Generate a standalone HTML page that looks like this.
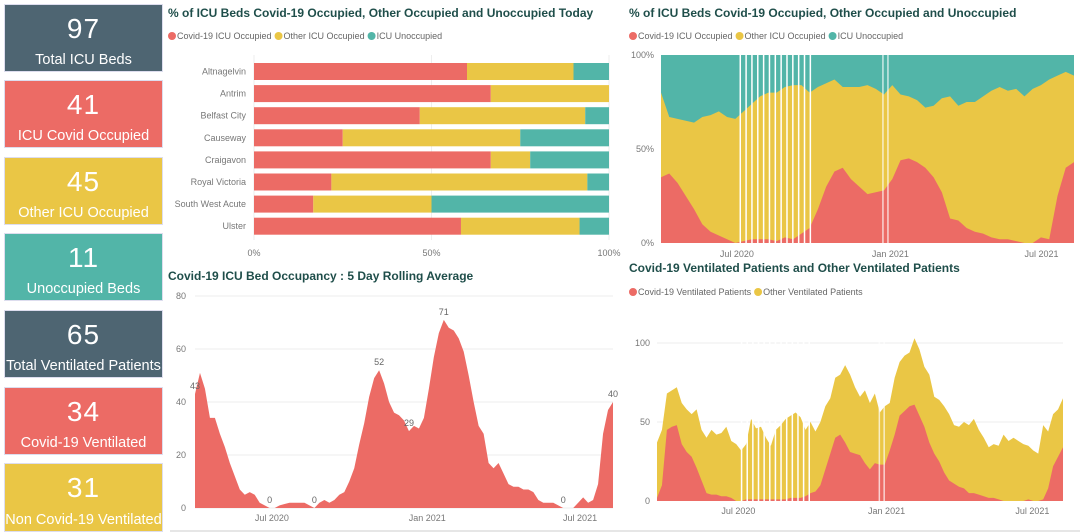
<!DOCTYPE html>
<html><head><meta charset="utf-8">
<style>
body{margin:0;width:1080px;height:532px;background:#fff;overflow:hidden;font-family:"Liberation Sans",sans-serif;position:relative}
.card{position:absolute;left:4px;width:159px;height:68px;color:#fff;text-align:center;box-sizing:border-box;border:1px solid #dde}
.card .n{position:absolute;left:0;right:0;top:8px;font-size:28px;letter-spacing:1px}
.card .l{position:absolute;left:0;right:0;bottom:3px;font-size:14.5px;white-space:nowrap}
svg{position:absolute;left:0;top:0}
</style></head><body>
<div class="card" style="top:4px;background:#4E6572"><div class="n">97</div><div class="l">Total ICU Beds</div></div>
<div class="card" style="top:80px;background:#EC6B65"><div class="n">41</div><div class="l">ICU Covid Occupied</div></div>
<div class="card" style="top:157px;background:#EAC645"><div class="n">45</div><div class="l">Other ICU Occupied</div></div>
<div class="card" style="top:233px;background:#52B5A8"><div class="n">11</div><div class="l">Unoccupied Beds</div></div>
<div class="card" style="top:310px;background:#4E6572"><div class="n">65</div><div class="l">Total Ventilated Patients</div></div>
<div class="card" style="top:387px;background:#EC6B65"><div class="n">34</div><div class="l">Covid-19 Ventilated</div></div>
<div class="card" style="top:463px;background:#EAC645;height:69px"><div class="n">31</div><div class="l">Non Covid-19 Ventilated</div></div>

<svg id="s" width="1080" height="532"></svg>
<script>
// Bar chart data
const hospitals=["Altnagelvin","Antrim","Belfast City","Causeway","Craigavon","Royal Victoria","South West Acute","Ulster"];
const covidPct=[60,66.7,46.7,25,66.7,21.8,16.7,58.3];
const otherPct=[30,33.3,46.6,50,11.1,72.1,33.3,33.4];
const unoccPct=[10,0,6.7,25,22.2,6.1,50,8.3];
const barTicks=["0%","50%","100%"];
// Rolling average (days from 1 Apr 2020, evenly spaced over 0..495)
const rollAvg=[43,51,45,34,34,28,23,17,12,7,5,6,5,2,1,0,0,1,1.5,2,2,2,2,1,0,2,3,2,3,5,6,10,15,24,32,42,49,52,47,40,36,35,33,29,31,30,34,45,57,66,71,68,67,64,59,50,40,31,28,17,15,17,13,9,8,8,7,7,6,3,2,2,2,1,0,0,0,2,4,2,3,9,28,37,40];
const rollTicks=[0,20,40,60,80];
const rollLabels=[[0,"43"],[37,"52"],[43,"29"],[50,"71"],[15,"0"],[24,"0"],[74,"0"],[84,"40"]];
// Stacked 100% (days 0..495)
const pctCovid=[35,37,32,25,18,10,6,4,2,0,1,2,2,2,1,3,2,5,8,18,30,38,40,34,30,26,27,28,34,44,45,43,40,35,27,13,12,8,6,5,3,2,2,1,0,0,3,2,25,40,43];
const pctCovidOther=[80,67,66,65,64,67,68,70,67,66,70,74,78,80,80,83,84,84,80,83,85,87,83,83,83,84,82,79,84,79,78,76,72,73,77,78,73,75,75,78,81,83,81,82,78,82,84,87,89,91,89];
// Ventilated (days -10..494)
const ventCovid=[2,10,45,47,48,36,31,28,21,13,5,4,4,3,3,2,0,0,1,1,1,1,1,1,1,1,1,2,2,2,3,5,6,10,20,30,40,42,37,31,30,29,24,20,24,23,23,32,42,54,57,60,61,54,47,37,30,25,18,13,11,9,8,5,5,4,3,2,2,1,0,0,0,0,0,1,0,0,1,8,22,28,34];
const ventTotal=[37,45,68,70,72,62,58,55,58,45,40,45,42,43,47,38,36,32,36,52,46,47,40,35,45,48,52,54,56,53,45,50,44,50,60,65,78,80,86,80,72,66,70,62,68,56,60,62,78,88,92,94,103,96,85,80,66,64,60,55,48,47,50,48,52,45,40,34,36,35,42,38,40,38,36,35,32,30,48,44,55,58,65];
const gapDays=[95,102,109,116,123,130,137,144,151,158,165,172,179,266,272];
const dateTicks=[[91,"Jul 2020"],[275,"Jan 2021"],[456,"Jul 2021"]];

const S=document.getElementById('s');const NS="http://www.w3.org/2000/svg";
function el(t,a,txt){const e=document.createElementNS(NS,t);for(const k in a)e.setAttribute(k,a[k]);if(txt!==undefined)e.textContent=txt;S.appendChild(e);return e;}
const RED="#EC6B65",YEL="#EAC645",TEAL="#52B5A8",TC="#1F4E4A",GR="#777";
function title(x,y,t,n){const e=el('text',{x:x,y:y,'font-size':12,'font-weight':'bold',fill:TC},t);

}
function legend(x,y,items,n){let cx=x;items.forEach(([c,t])=>{const g=el('circle',{cx:cx+4,cy:y-3,r:4,fill:c});


const tx=el('text',{x:cx+9,y:y,'font-size':9,fill:'#666'},t);


cx+=9+tx.getComputedTextLength()+3;});}

// ---- Bar chart
title(168,17,"% of ICU Beds Covid-19 Occupied, Other Occupied and Unoccupied Today","bar-chart-title");
legend(168,39,[[RED,"Covid-19 ICU Occupied"],[YEL,"Other ICU Occupied"],[TEAL,"ICU Unoccupied"]],"bar-legend");
const bx=p=>254+p*3.55;
[0,50,100].forEach((p,i)=>{el('line',{x1:bx(p),x2:bx(p),y1:55,y2:240,stroke:'#eee'});
const t=el('text',{x:bx(p),y:256,'font-size':9,fill:GR,'text-anchor':'middle'},barTicks[i]);

});
hospitals.forEach((h,i)=>{const cy=71.5+i*22.1;
const t=el('text',{x:246,y:cy+3,'font-size':9,fill:GR,'text-anchor':'end'},h);


let acc=0;[[covidPct[i],RED],[otherPct[i],YEL],[unoccPct[i],TEAL]].forEach(([v,c])=>{
const r=el('rect',{x:bx(acc),y:cy-8.5,width:v*3.55,height:17,fill:c});

acc+=v;});});

// ---- Rolling average
title(168,280,"Covid-19 ICU Bed Occupancy : 5 Day Rolling Average","rolling-chart-title");
const rx=d=>195+d*418/495, ry=v=>508-v*212/80;
rollTicks.forEach(v=>{el('line',{x1:195,x2:613,y1:ry(v),y2:ry(v),stroke:'#eee'});
const t=el('text',{x:186,y:ry(v)+3,'font-size':9,fill:GR,'text-anchor':'end'},v);

});
let rp=`M${rx(0)},${ry(0)}`;rollAvg.forEach((v,i)=>{rp+=`L${rx(i*495/(rollAvg.length-1))},${ry(v)}`});rp+=`L${rx(495)},${ry(0)}Z`;
const ra=el('path',{d:rp,fill:RED});


rollLabels.forEach(([i,t])=>{const e=el('text',{x:rx(i*495/(rollAvg.length-1)),y:ry(rollAvg[i])-5,'font-size':9,fill:'#666','text-anchor':'middle'},t);

});
dateTicks.forEach(([d,t])=>{const e=el('text',{x:rx(d),y:521,'font-size':9,fill:GR,'text-anchor':'middle'},t);

});

// ---- Stacked 100%
title(629,17,"% of ICU Beds Covid-19 Occupied, Other Occupied and Unoccupied","stacked-chart-title");
legend(629,39,[[RED,"Covid-19 ICU Occupied"],[YEL,"Other ICU Occupied"],[TEAL,"ICU Unoccupied"]],"stacked-legend");
const px=d=>661+d*413/495, py=v=>243-v*1.88;
[[0,"0%"],[50,"50%"],[100,"100%"]].forEach(([v,t])=>{const e=el('text',{x:654,y:py(v)+3,'font-size':9,fill:GR,'text-anchor':'end'},t);

});
const tr=el('rect',{x:661,y:py(100),width:413,height:188,fill:TEAL});


function area(arr,dom0,dom1,fx,fy,fill,name){let p=`M${fx(dom0)},${fy(0)}`;arr.forEach((v,i)=>{p+=`L${fx(dom0+i*(dom1-dom0)/(arr.length-1))},${fy(v)}`});p+=`L${fx(dom1)},${fy(0)}Z`;
const e=el('path',{d:p,fill:fill});

}
area(pctCovidOther,0,495,px,py,YEL,'other-occupied-area');
area(pctCovid,0,495,px,py,RED,'covid-occupied-area');
gapDays.forEach(d=>{el('line',{x1:px(d),x2:px(d),y1:py(100),y2:py(0),stroke:'#fff','stroke-width':1.5,opacity:d>200?0.7:1});});
dateTicks.forEach(([d,t])=>{const e=el('text',{x:px(d),y:257,'font-size':9,fill:GR,'text-anchor':'middle'},t);

});

// ---- Ventilated
title(629,272,"Covid-19 Ventilated Patients and Other Ventilated Patients","ventilated-chart-title");
legend(629,295,[[RED,"Covid-19 Ventilated Patients"],[YEL,"Other Ventilated Patients"]],"ventilated-legend");
const vx=d=>657+(d+10)*406/504, vy=v=>501-v*1.58;
[0,50,100].forEach(v=>{if(v)el('line',{x1:657,x2:1063,y1:vy(v),y2:vy(v),stroke:'#eee'});
const e=el('text',{x:650,y:vy(v)+3,'font-size':9,fill:GR,'text-anchor':'end'},v);

});
area(ventTotal,-10,494,vx,vy,YEL,'other-ventilated-area');
area(ventCovid,-10,494,vx,vy,RED,'covid-ventilated-area');
gapDays.forEach(d=>{el('line',{x1:vx(d),x2:vx(d),y1:vy(105),y2:vy(0),stroke:'#fff','stroke-width':1.5,opacity:d>200?0.7:1});});
dateTicks.forEach(([d,t])=>{const e=el('text',{x:vx(d),y:514,'font-size':9,fill:GR,'text-anchor':'middle'},t);

});
el('line',{x1:170,x2:1080,y1:531,y2:531,stroke:'#ccc'});
</script>
</body></html>
